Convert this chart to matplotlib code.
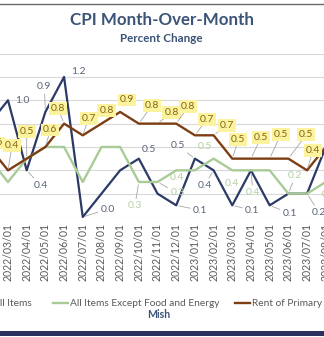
import matplotlib
matplotlib.use("Agg")
import matplotlib.pyplot as plt
from matplotlib.lines import Line2D

plt.rcParams['font.family'] = ['Lato', 'DejaVu Sans']

# Monthly CPI changes, percent
months = ["2022/02/01", "2022/03/01", "2022/04/01", "2022/05/01", "2022/06/01",
          "2022/07/01", "2022/08/01", "2022/09/01", "2022/10/01", "2022/11/01",
          "2022/12/01", "2023/01/01", "2023/02/01", "2023/03/01", "2023/04/01",
          "2023/05/01", "2023/06/01", "2023/07/01", "2023/08/01"]
all_items = [0.8, 1.0, 0.4, 0.9, 1.2, 0.0, 0.2, 0.4, 0.5, 0.2, 0.1, 0.5, 0.4,
             0.1, 0.4, 0.1, 0.2, 0.2, 0.6]
core = [0.5, 0.3, 0.5, 0.6, 0.6, 0.3, 0.6, 0.6, 0.3, 0.3, 0.4, 0.4, 0.5,
        0.4, 0.4, 0.4, 0.2, 0.2, 0.3]
rent = [0.6, 0.4, 0.5, 0.6, 0.8, 0.7, 0.8, 0.9, 0.8, 0.8, 0.8, 0.7, 0.7,
        0.5, 0.5, 0.5, 0.5, 0.4, 0.6]

series_names = ["All Items", "All Items Except Food and Energy",
                "Rent of Primary Residence"]

NAVY = '#2B3A67'
GREEN = '#A9CB97'
BROWN = '#7E3E14'
TITLE = '#3B5478'

W, H = 324, 337
fig = plt.figure(figsize=(W / 100, H / 100), dpi=100)


def fx(px):
    return px / W


def fy(py):
    return (H - py) / H


# plot area: value 0 at y=217 px, 1.4 at y=53.6 px; months 18.69 px apart,
# 2022/03 at x=8 px. The plot area runs past both sides of the figure.
y0_px, y1_px = 217.0, 53.6
left_px, right_px = -22.0, 346.0
step = 18.69
ax = fig.add_axes([fx(left_px), fy(y0_px), (right_px - left_px) / W,
                   (y0_px - y1_px) / H])
for s in ax.spines.values():
    s.set_visible(False)
ax.set_yticks([0.2 * k for k in range(8)])
ax.set_yticklabels([])
ax.tick_params(axis='y', length=0)
ax.grid(axis='y', color='#D9D9D9', lw=0.8)
ax.set_axisbelow(True)

x = list(range(len(months)))
ax.set_xticks(x)
ax.set_xticklabels(months, rotation=90, fontsize=7.6, color='#595959')
ax.tick_params(axis='x', length=0, pad=4)
ax.set_xlim(1 + (left_px - 8) / step, 1 + (right_px - 8) / step)
ax.set_ylim(0, 1.4)

ax.plot(x, all_items, color=NAVY, lw=1.6, clip_on=False, zorder=3)
ax.plot(x, core, color=GREEN, lw=1.7, clip_on=False, zorder=3)
ax.plot(x, rent, color=BROWN, lw=1.7, clip_on=False, zorder=3)

# data label offsets in pixels relative to each point
navy_lbl = {1: (14, 0), 2: (14, -15), 3: (-1, 25), 4: (14, 5), 5: (25, 8),
            8: (10, 9), 10: (24, -5), 11: (-17, 13), 12: (-9, -15),
            13: (20, -5), 15: (20, -8), 17: (12, -19)}
rent_lbl = {0: (7, 4), 1: (4, 25), 2: (0, 27), 3: (5, 17), 4: (-6, 15),
            5: (6, 17), 6: (5, 13), 7: (7, 12), 8: (13, 18), 9: (14, 11),
            10: (12, 17), 11: (12, 16), 12: (13, 10), 13: (6, 19),
            14: (10, 21), 15: (11, 24), 16: (18, 24), 17: (6, 20)}
core_lbl = {8: (-4, -24), 9: (20, -11), 10: (1, -7), 12: (-9, 12),
            13: (0, -13), 14: (2, -22), 16: (7, 18), 18: (3, -13)}


def put_labels(values, offsets, color, box=None):
    for i, (dx, dy) in offsets.items():
        v = values[i]
        far = (dx * dx + dy * dy) ** 0.5 > 15
        arrow = dict(arrowstyle='-', color='#A6A6A6', lw=0.6,
                     shrinkA=0, shrinkB=2) if far else None
        ax.annotate(f"{v:.1f}", xy=(i, v), xytext=(dx, dy),
                    textcoords='offset pixels', ha='center', va='center',
                    fontsize=7.5, color=color, bbox=box, arrowprops=arrow,
                    annotation_clip=False, zorder=6)


put_labels(all_items, navy_lbl, '#5A6478')
put_labels(core, core_lbl, '#B3CFA1')
put_labels(rent, rent_lbl, '#86650F',
           box=dict(boxstyle='square,pad=0.18', fc='#FCF3A0', ec='none'))

# titles
fig.text(fx(162), fy(20), "CPI Month-Over-Month", ha='center', va='center',
         fontsize=12.2, fontweight='bold', color=TITLE)
fig.text(fx(161), fy(39), "Percent Change", ha='center', va='center',
         fontsize=8.4, fontweight='bold', color=TITLE)

# legend row
ly = fy(303)
fig.add_artist(Line2D([fx(-28), fx(-12)], [ly, ly], color=NAVY, lw=1.6))
fig.text(fx(32), ly, series_names[0], ha='right', va='center',
         fontsize=7.3, color='#595959')
fig.add_artist(Line2D([fx(53), fx(68)], [ly, ly], color=GREEN, lw=1.7))
fig.text(fx(70), ly, series_names[1], ha='left', va='center',
         fontsize=7.3, color='#595959')
fig.add_artist(Line2D([fx(235), fx(250)], [ly, ly], color=BROWN, lw=1.7))
fig.text(fx(252), ly, series_names[2], ha='left', va='center',
         fontsize=7.3, color='#595959')

fig.text(fx(159), fy(314), "Mish", ha='center', va='center',
         fontsize=7.6, fontweight='bold', color=TITLE)

# frame lines
fig.add_artist(Line2D([0, 1], [fy(4), fy(4)], color='#6A6A6A', lw=1.0))
fig.add_artist(Line2D([0, 1], [fy(333), fy(333)], color='#2D2F5C', lw=3.6))

fig.savefig("out.png", dpi=100)
